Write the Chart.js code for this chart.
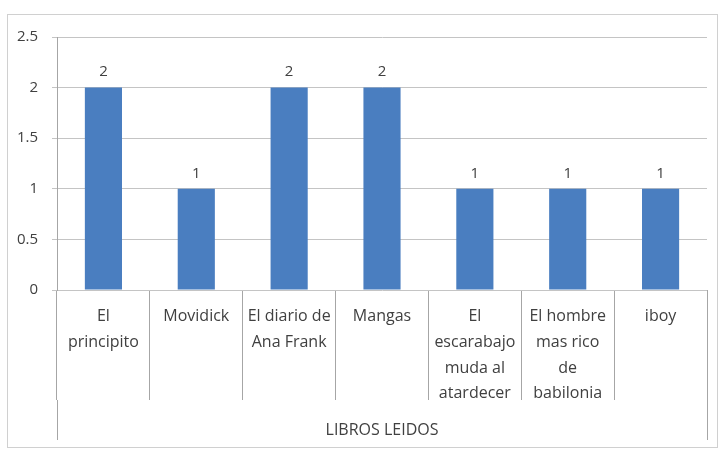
<!DOCTYPE html>
<html>
<head>
<meta charset="utf-8">
<script src="https://cdn.jsdelivr.net/npm/chart.js@4"></script>
<style>
  html, body { margin: 0; padding: 0; background: #fff; }
  #wrap { width: 722px; height: 450px; }
</style>
</head>
<body>
<div id="wrap"><canvas id="myChart" width="722" height="450"></canvas></div>
<script>
const libros = [
  ['El', 'principito'],
  'Movidick',
  ['El diario de', 'Ana Frank'],
  'Mangas',
  ['El', 'escarabajo', 'muda al', 'atardecer'],
  ['El hombre', 'mas rico', 'de', 'babilonia'],
  'iboy'
];
const cantidad = [2, 1, 2, 2, 1, 1, 1];
const yTicks = [0, 0.5, 1, 1.5, 2, 2.5];
const grupo = 'LIBROS LEIDOS';

const fontName = '"Open Sans", Lato, sans-serif';
const textColor = '#404040';

// value labels above bars + outer frame + long separators at both ends
const extras = {
  id: 'extras',
  beforeDraw(chart) {
    const c = chart.ctx;
    c.save();
    c.strokeStyle = '#d0d0d0';
    c.lineWidth = 1;
    c.strokeRect(7.5, 14.5, 710, 433);
    c.restore();
  },
  afterDraw(chart) {
    const c = chart.ctx;
    const area = chart.chartArea;
    c.save();
    c.strokeStyle = '#a6a6a6';
    c.lineWidth = 1;
    [area.left, area.right].forEach(x => {
      c.beginPath();
      c.moveTo(Math.round(x) + 0.5, area.bottom + 110);
      c.lineTo(Math.round(x) + 0.5, 440);
      c.stroke();
    });
    const meta = chart.getDatasetMeta(0);
    c.fillStyle = textColor;
    c.font = '15px ' + fontName;
    c.textAlign = 'center';
    c.textBaseline = 'bottom';
    meta.data.forEach((bar, i) => {
      c.fillText(cantidad[i], bar.x, bar.y - 8);
    });
    c.restore();
  }
};

const ctx = document.getElementById('myChart').getContext('2d');
const myChart = new Chart(ctx, {
  type: 'bar',
  data: {
    labels: libros,
    datasets: [{
      data: cantidad,
      backgroundColor: '#4a7ec0',
      borderWidth: 0,
      barPercentage: 0.4,
      categoryPercentage: 1
    }]
  },
  options: {
    responsive: false,
    animation: false,
    layout: { padding: { left: 7, right: 15, top: 37, bottom: 0 } },
    plugins: {
      legend: { display: false },
      tooltip: { enabled: false }
    },
    scales: {
      x: {
        afterFit: (scale) => { scale.height = 160; },
        grid: {
          offset: true,
          drawOnChartArea: false,
          tickLength: 110,
          color: '#a6a6a6'
        },
        border: { display: false },
        ticks: {
          color: textColor,
          font: { family: fontName, size: 16, lineHeight: 1.6 },
          padding: -96,
          maxRotation: 0,
          autoSkip: false
        },
        title: {
          display: true,
          text: grupo,
          color: textColor,
          font: { family: fontName, size: 16 },
          padding: { top: 0, bottom: 10 }
        }
      },
      y: {
        min: 0,
        max: 2.5,
        afterFit: (scale) => { scale.width = 50; },
        afterBuildTicks: (scale) => { scale.ticks = yTicks.map(v => ({ value: v })); },
        grid: { color: '#c4c4c4', tickLength: 5 },
        border: { color: '#a6a6a6' },
        ticks: {
          color: textColor,
          font: { family: fontName, size: 15 },
          padding: 14,
          callback: (v) => String(v)
        }
      }
    }
  },
  plugins: [extras]
});
</script>
</body>
</html>
